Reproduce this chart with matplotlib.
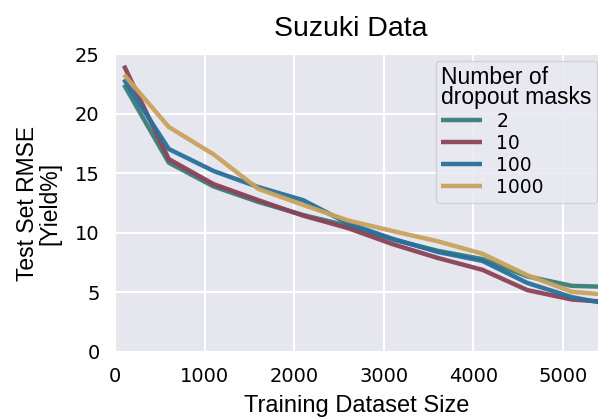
import numpy as np
import matplotlib
matplotlib.use("Agg")
import matplotlib.pyplot as plt


# training set sizes and test RMSE per number of dropout masks
train_sizes = [100, 600, 1100, 1600, 2100, 2600, 3100, 3600, 4100, 4600, 5100, 5600]
rmse_2 = [22.45, 15.9, 13.9, 12.6, 11.5, 10.6, 9.45, 8.5, 7.8, 6.35, 5.55, 5.45]
rmse_10 = [24.05, 16.2, 14.1, 12.75, 11.45, 10.4, 9.05, 7.9, 6.9, 5.2, 4.4, 4.15]
rmse_100 = [22.9, 17.05, 15.2, 13.85, 12.75, 10.8, 9.5, 8.4, 7.65, 5.8, 4.6, 3.9]
rmse_1000 = [23.3, 18.9, 16.6, 13.7, 12.35, 11.05, 10.15, 9.3, 8.25, 6.45, 5.05, 4.75]

mask_labels = ["2", "10", "100", "1000"]
line_colors = ["#3b7d78", "#8c4257", "#28709c", "#c9a35e"]

LABEL_FONT = "Liberation Sans"


def main():
    plt.rcParams["font.family"] = ["DejaVu Sans"]

    fig = plt.figure(figsize=(5.98, 4.18), dpi=100)
    ax = fig.add_axes([0.1923, 0.158, 0.8077, 0.712])
    ax.set_facecolor("#e6e6ef")
    for s in ax.spines.values():
        s.set_visible(False)

    series = [rmse_2, rmse_10, rmse_100, rmse_1000]
    for vals, lab, col in zip(series, mask_labels, line_colors):
        ax.plot(train_sizes, vals, color=col, lw=3.2, label=lab, alpha=0.95,
                solid_capstyle="butt")

    ax.set_xlim(0, 5390)
    ax.set_ylim(0, 25)
    ax.set_xticks(np.arange(0, 6000, 1000))
    ax.set_yticks(np.arange(0, 30, 5))
    ax.grid(color="white", lw=1.5)
    ax.set_axisbelow(True)
    ax.tick_params(length=0, labelsize=14, pad=11)

    ax.set_title("Suzuki Data", fontsize=20.5, family=LABEL_FONT, x=0.488, pad=13)
    ax.set_xlabel("Training Dataset Size", fontsize=17, family=LABEL_FONT, labelpad=6)
    ax.set_ylabel("Test Set RMSE\n[Yield%]", fontsize=16.5, family=LABEL_FONT,
                  labelpad=10, linespacing=0.95)

    leg = ax.legend(title="Number of\ndropout masks", loc="upper right",
                    bbox_to_anchor=(1.011, 1.0), borderaxespad=0.33,
                    fontsize=13.5, handlelength=2.2, handletextpad=0.75,
                    labelspacing=0.16, borderpad=0.3,
                    alignment="left", facecolor="#e9e9f1", edgecolor="#cfcfd6",
                    framealpha=0.9, fancybox=True)
    leg.get_title().set_fontfamily(LABEL_FONT)
    leg.get_title().set_fontsize(16.5)
    leg.get_title().set_linespacing(0.82)
    for h in leg.get_lines():
        h.set_linewidth(3.2)

    fig.savefig("out.png", dpi=100)


if __name__ == "__main__":
    main()
